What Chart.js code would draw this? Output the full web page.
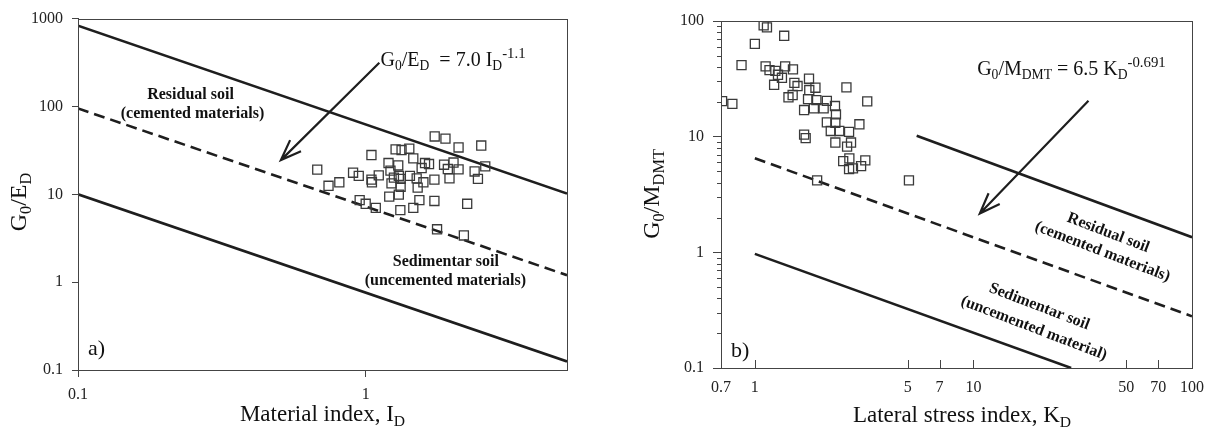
<!DOCTYPE html>
<html>
<head>
<meta charset="utf-8">
<script src="https://cdn.jsdelivr.net/npm/chart.js@4.4.0/dist/chart.umd.min.js"></script>
<style>
  html, body { margin: 0; padding: 0; background: #fff; }
  #wrap { position: relative; width: 1214px; height: 430px; }
  .box { position: absolute; top: 0; height: 430px; }
</style>
</head>
<body>
<div id="wrap">
  <div class="box" style="left:0;width:600px"><canvas id="chart-a"></canvas></div>
  <div class="box" style="left:600px;width:614px"><canvas id="chart-b"></canvas></div>
</div>
<script>
// ---- panel a) : G0/ED vs material index ID ----
const idA = [0.678, 0.742, 0.809, 0.903, 0.945, 0.952, 0.999, 1.046, 1.046, 1.05, 1.083, 1.109, 1.199, 1.206,
  1.218, 1.228, 1.252, 1.269, 1.296, 1.302, 1.302, 1.318, 1.321, 1.331, 1.416, 1.423, 1.462, 1.462, 1.502,
  1.514, 1.535, 1.563, 1.585, 1.606, 1.658, 1.731, 1.731, 1.735, 1.768, 1.870, 1.891, 1.927, 1.953, 2.017,
  2.10, 2.10, 2.191, 2.250, 2.388, 2.452, 2.518, 2.600, 1.321];
const g0EdA = [19.1, 12.5, 13.7, 17.6, 16.2, 8.6, 7.8, 28.0, 14.7, 13.7, 7.0, 16.4, 22.7, 9.4,
  18.6, 13.3, 15.5, 32.4, 21.3, 16.2, 9.9, 6.6, 12.2, 31.9, 33.0, 16.2, 25.6, 7.0, 15.2,
  11.9, 8.6, 19.9, 13.7, 22.7, 22.1, 14.7, 8.4, 45.5, 4.0, 21.7, 43.1, 19.4, 15.2, 23.0,
  34.1, 19.2, 3.4, 7.8, 18.2, 15.0, 35.9, 20.8, 15.0];
const lineAx = [0.1, 5];
const upperAy = [830, 10.2];
const midAy = [95, 1.2];
const lowerAy = [10, 0.125];
const ticksAx = [0.1, 1];
const ticksAy = [0.1, 1, 10, 100, 1000];

// ---- panel b) : G0/MDMT vs lateral stress index KD ----
const kdB = [1.097, 1.136, 1.362, 1.0, 0.869, 0.708, 0.789, 1.120, 1.167, 1.241, 1.330, 1.276, 1.225, 1.376,
  1.494, 1.516, 1.425, 1.489, 1.568, 1.769, 1.774, 1.893, 1.751, 1.680, 1.862, 1.912, 2.135, 2.064, 2.326,
  2.350, 2.135, 2.335, 2.225, 2.433, 2.335, 2.624, 2.698, 2.754, 2.642, 3.008, 3.267, 2.536, 2.706, 2.698,
  2.811, 3.062, 3.201, 5.07, 1.927, 1.680, 1.708];
const g0MB = [91.6, 88.1, 74.5, 63.5, 41.6, 20.3, 19.2, 40.5, 37.6, 37.1, 32.3, 34.3, 28.1, 40.5,
  38.2, 29.2, 21.9, 22.9, 27.4, 31.7, 25.3, 26.5, 21.1, 17.0, 17.6, 20.7, 20.4, 17.6, 18.4,
  15.6, 13.3, 13.2, 11.2, 11.2, 8.9, 26.7, 11.0, 8.9, 8.2, 12.8, 20.2, 6.15, 6.5, 5.25,
  5.32, 5.57, 6.24, 4.19, 4.19, 10.4, 9.7];
const upperBx = [5.5, 100], upperBy = [10.2, 1.35];
const midBx = [1, 100], midBy = [6.5, 0.28];
const lowerBx = [1, 28], lowerBy = [0.97, 0.1];
const ticksBx = [0.7, 1, 5, 7, 10, 50, 70, 100];
const ticksBy = [0.1, 1, 10, 100];

const SERIF = '"Liberation Serif", "Times New Roman", serif';
const INK = '#1e1e1e';
const AXIS = '#444';

const pts = (xs, ys) => xs.map((x, i) => ({ x, y: ys[i] }));

function fontFor(kind, size, bold) {
  const s = kind === 'sub' ? size * 0.68 : kind === 'sup' ? size * 0.74 : size;
  return (bold ? 'bold ' : '') + s + 'px ' + SERIF;
}
// text made of normal / sub / sup pieces
function drawRich(ctx, parts, x, y, size, align) {
  let w = 0;
  parts.forEach(([t, k]) => { ctx.font = fontFor(k, size); w += ctx.measureText(t).width; });
  let cx = align === 'center' ? x - w / 2 : x;
  ctx.textAlign = 'left';
  ctx.textBaseline = 'alphabetic';
  parts.forEach(([t, k]) => {
    ctx.font = fontFor(k, size);
    const dy = k === 'sub' ? size * 0.22 : k === 'sup' ? -size * 0.42 : 0;
    ctx.fillText(t, cx, y + dy);
    cx += ctx.measureText(t).width;
  });
}
function arrow(ctx, x1, y1, x2, y2) {
  const a = Math.atan2(y2 - y1, x2 - x1), L = 22, s = 0.36;
  ctx.beginPath();
  ctx.moveTo(x1, y1); ctx.lineTo(x2, y2);
  ctx.moveTo(x2 - L * Math.cos(a - s), y2 - L * Math.sin(a - s));
  ctx.lineTo(x2, y2);
  ctx.lineTo(x2 - L * Math.cos(a + s), y2 - L * Math.sin(a + s));
  ctx.stroke();
}
function frame(chart) {
  const { ctx, chartArea: c } = chart;
  ctx.save();
  ctx.strokeStyle = AXIS; ctx.lineWidth = 1;
  ctx.strokeRect(Math.round(c.left) + 0.5, Math.round(c.top) + 0.5, Math.round(c.right - c.left), Math.round(c.bottom - c.top));
  ctx.restore();
}

function lineSet(xs, ys, dashed) {
  return { data: pts(xs, ys), showLine: true, pointRadius: 0, borderColor: INK, borderWidth: 2.6,
    borderDash: dashed ? [11, 6] : [], order: 2 };
}
function pointSet(xs, ys) {
  return { data: pts(xs, ys), pointStyle: 'rect', pointRadius: 6.4, borderWidth: 1.3,
    pointBorderColor: '#3a3a3a', pointBackgroundColor: 'rgba(255,255,255,0)', order: 1 };
}
function logAxis(min, max, ticks, extra, pad) {
  return Object.assign({
    type: 'logarithmic', min, max,
    afterBuildTicks: s => { s.ticks = ticks.map(v => ({ value: v })); },
    ticks: { autoSkip: false, maxRotation: 0, color: '#222', padding: pad, font: { family: SERIF, size: 16 },
      callback: v => String(v) },
    border: { color: AXIS, width: 1 }
  }, extra);
}

const baseOpts = {
  responsive: true, maintainAspectRatio: false, animation: false,
  plugins: { legend: { display: false }, tooltip: { enabled: false } }
};

// panel a)
new Chart(document.getElementById('chart-a'), {
  type: 'scatter',
  data: { datasets: [
    lineSet(lineAx, upperAy), lineSet(lineAx, midAy, true), lineSet(lineAx, lowerAy),
    pointSet(idA, g0EdA)
  ] },
  options: Object.assign({}, baseOpts, {
    layout: { padding: { left: 0, right: 33, top: 17, bottom: 0 } },
    scales: {
      x: logAxis(0.1, 5, ticksAx, { afterFit: s => { s.height = 60; },
        grid: { drawOnChartArea: false, tickLength: 7, tickColor: AXIS } }, 8),
      y: logAxis(0.1, 1000, ticksAy, { afterFit: s => { s.width = 78; },
        grid: { drawOnChartArea: false, tickLength: 6, tickColor: AXIS } }, 9)
    }
  }),
  plugins: [{
    id: 'notesA',
    afterDraw(chart) {
      const { ctx, chartArea: c } = chart;
      const px = v => chart.scales.x.getPixelForValue(v), py = v => chart.scales.y.getPixelForValue(v);
      frame(chart);
      ctx.save();
      ctx.fillStyle = '#111'; ctx.strokeStyle = INK; ctx.lineWidth = 2.2;
      arrow(ctx, px(1.114), py(314), px(0.507), py(24.5));
      drawRich(ctx, [['G'], ['0', 'sub'], ['/E'], ['D', 'sub'], ['  = 7.0 I'], ['D', 'sub'], ['-1.1', 'sup']],
        px(1.125), py(288), 20, 'left');
      ctx.font = 'bold 16px ' + SERIF; ctx.textAlign = 'center'; ctx.textBaseline = 'middle';
      ctx.fillText('Residual soil', px(0.246), py(135));
      ctx.fillText('(cemented materials)', px(0.25), py(82.2));
      ctx.fillText('Sedimentar soil', px(1.897), py(1.69));
      ctx.fillText('(uncemented materials)', px(1.89), py(1.03));
      ctx.font = '22px ' + SERIF; ctx.textAlign = 'left'; ctx.textBaseline = 'alphabetic';
      ctx.fillText('a)', c.left + 10, c.bottom - 15);
      // axis titles
      drawRich(ctx, [['Material index, I'], ['D', 'sub']], (c.left + c.right) / 2, 421, 23, 'center');
      ctx.translate(26, 202); ctx.rotate(-Math.PI / 2);
      drawRich(ctx, [['G'], ['0', 'sub'], ['/E'], ['D', 'sub']], 0, 0, 24, 'center');
      ctx.restore();
    }
  }]
});

// panel b)
new Chart(document.getElementById('chart-b'), {
  type: 'scatter',
  data: { datasets: [
    lineSet(upperBx, upperBy), lineSet(midBx, midBy, true), lineSet(lowerBx, lowerBy),
    pointSet(kdB, g0MB)
  ] },
  options: Object.assign({}, baseOpts, {
    layout: { padding: { left: 0, right: 10, top: 21, bottom: 0 } },
    scales: {
      x: logAxis(0.7, 100, ticksBx, { afterFit: s => { s.height = 62; },
        grid: { drawOnChartArea: false, drawTicks: false } }, 10),
      y: logAxis(0.1, 100, ticksBy, { afterFit: s => { s.width = 121; },
        grid: { drawOnChartArea: false, tickLength: 8, tickColor: AXIS } }, 9)
    }
  }),
  plugins: [{
    id: 'notesB',
    afterDraw(chart) {
      const { ctx, chartArea: c } = chart;
      const px = v => chart.scales.x.getPixelForValue(v), py = v => chart.scales.y.getPixelForValue(v);
      frame(chart);
      ctx.save();
      ctx.strokeStyle = AXIS; ctx.lineWidth = 1;
      ctx.beginPath();
      // minor ticks on y (outside), inner ticks on x
      [0.1, 1, 10].forEach(d => [2, 3, 4, 5, 6, 7, 8, 9].forEach(m => {
        const y = Math.round(py(d * m)) + 0.5;
        ctx.moveTo(c.left - 4, y); ctx.lineTo(c.left, y);
      }));
      ticksBx.slice(1, -1).forEach(v => {
        const x = Math.round(px(v)) + 0.5;
        ctx.moveTo(x, c.bottom); ctx.lineTo(x, c.bottom - 8);
      });
      ctx.stroke();
      ctx.fillStyle = '#111'; ctx.strokeStyle = INK; ctx.lineWidth = 2.2;
      arrow(ctx, px(33.6), py(20.4), px(10.7), py(2.17));
      drawRich(ctx, [['G'], ['0', 'sub'], ['/M'], ['DMT', 'sub'], [' = 6.5 K'], ['D', 'sub'], ['-0.691', 'sup']],
        px(10.4), py(34.1), 20, 'left');
      ctx.font = 'bold 16px ' + SERIF; ctx.textAlign = 'center'; ctx.textBaseline = 'middle';
      const rot = (t, x, y) => { ctx.save(); ctx.translate(x, y); ctx.rotate(21 * Math.PI / 180); ctx.fillText(t, 0, 0); ctx.restore(); };
      rot('Residual soil', px(41.4), py(1.47));
      rot('(cemented materials)', px(38.9), py(1.01));
      rot('Sedimentar soil', px(20.0), py(0.339));
      rot('(uncemented material)', px(18.9), py(0.22));
      ctx.font = '22px ' + SERIF; ctx.textAlign = 'left'; ctx.textBaseline = 'alphabetic';
      ctx.fillText('b)', c.left + 10, c.bottom - 11);
      drawRich(ctx, [['Lateral stress index, K'], ['D', 'sub']], 362, 422, 23, 'center');
      ctx.translate(59, 194); ctx.rotate(-Math.PI / 2);
      drawRich(ctx, [['G'], ['0', 'sub'], ['/M'], ['DMT', 'sub']], 0, 0, 24, 'center');
      ctx.restore();
    }
  }]
});
</script>
</body>
</html>
